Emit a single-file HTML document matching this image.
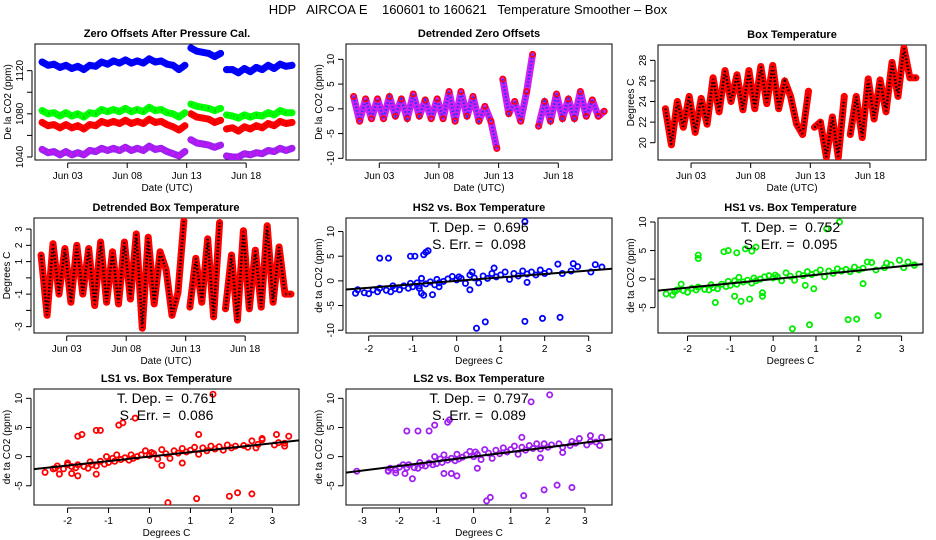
<!DOCTYPE html>
<html><head><meta charset="utf-8">
<style>
html,body{margin:0;padding:0;background:#fff;}
svg{display:block;font-family:"Liberation Sans",Arial,sans-serif;}
</style></head>
<body>
<svg id="chart" width="936" height="540" viewBox="0 0 936 540" xmlns="http://www.w3.org/2000/svg">
<rect x="0" y="0" width="936" height="540" fill="#fff"/>
<text x="468" y="14" text-anchor="middle" font-size="13" style="white-space:pre" xml:space="preserve">HDP   AIRCOA E    160601 to 160621   Temperature Smoother – Box</text>
</svg>
<script>
// ---- time-series data (half-day samples starting Jun 0.85) ----
const t0 = 0.85;
const dt = 0.5;
const timeTicks = [3, 8, 13, 18];
const timeTickLabels = ["Jun 03", "Jun 08", "Jun 13", "Jun 18"];
const segBreaks = [25, 31];
const zeroBlue = [1128,1125,1126,1123,1125,1122,1124,1121,1125,1124,1128,1126,1129,1127,1130,1127,1129,1127,1131,1128,1129,1126,1125,1121,1125,1141,1138,1137,1136,1133,1136,1121,1121,1118,1122,1119,1123,1121,1125,1122,1126,1124,1125];
const zeroGreen = [1083,1080,1081,1078,1081,1078,1080,1077,1081,1080,1084,1082,1084,1082,1085,1082,1084,1082,1086,1083,1084,1081,1080,1077,1081,1089,1087,1086,1085,1083,1085,1079,1078,1076,1079,1077,1079,1078,1081,1079,1083,1081,1081];
const zeroRed = [1072,1069,1070,1067,1070,1067,1069,1066,1070,1069,1073,1071,1073,1071,1074,1071,1073,1071,1075,1072,1073,1070,1068,1065,1069,1080,1077,1076,1075,1072,1074,1066,1067,1064,1068,1066,1069,1067,1071,1069,1073,1071,1072];
const zeroPurple = [1047,1044,1045,1042,1045,1042,1044,1042,1046,1045,1048,1046,1048,1046,1049,1046,1048,1046,1050,1047,1048,1045,1043,1041,1045,1056,1053,1052,1051,1049,1051,1041,1040,1040,1043,1042,1044,1043,1046,1045,1048,1046,1048];
const detrendedZero = [2.5,-2.5,2,-2,2,-2,2.5,-1.5,2,-2,3,-1.5,1.8,-2,2,-2,3.5,-2.5,3.5,-1.5,2.5,-2.5,0.5,-2.5,-8,6,-1,1.5,-2.5,3.5,11,-3.5,1.5,-2.5,3,-2,2,-2,3.5,-1.5,1.8,-1.5,-0.5];
const boxTemp = [23.3,19.8,24,21.5,24.5,21,24.3,21.8,26.3,23,27,24,26.6,23.2,27,23.3,27.4,23.8,27.5,23.3,26,24.5,21.8,20.8,25,21.5,22,18.6,22.5,18.6,24.5,20.8,24.5,20.5,26.2,22.3,26.1,23,27.8,24.5,29.2,26.3,26.3];
const detrendedBox = [1.4,-2.3,2.1,-1,1.8,-1.5,2,-1,1.8,-1.7,2.2,-1.5,1.6,-1.6,2.2,-1.3,2.7,-3.1,2.5,-1.6,1.6,0.5,-2.3,-0.9,3.5,-1.8,1.2,-1.5,2.4,-2.4,3.4,-1.9,1.4,-2.6,2.9,-1.9,1.7,-1.8,3.2,-1.5,1.9,-1,-1];

// ---- scatter data ----
const coreX = [-2.3,-2.25,-2.1,-2.0,-1.9,-1.8,-1.75,-1.6,-1.5,-1.45,-1.4,-1.3,-1.2,-1.1,-1.05,-1.0,-0.9,-0.85,-0.8,-0.7,-0.6,-0.5,-0.45,-0.4,-0.3,-0.2,-0.1,0,0.05,0.1,0.2,0.3,0.4,0.5,0.6,0.7,0.8,0.9,1.0,1.1,1.2,1.3,1.4,1.5,1.6,1.7,1.8,1.9,2.0,2.1,2.3,2.4,2.6,2.65,2.75,3.05,3.15,3.3];
const hs2X = coreX.concat([-1.75,-1.55,-1.05,-0.95,-0.75,-0.7,-0.65,1.55,0.45,0.65,1.55,1.95,2.35,-0.8,-0.75,-0.55,0.3,-0.85,-0.4,0.35,0.85,1.6]);
const hs2Y = [-2.5,-1.8,-2.4,-2.6,-1.8,-2.2,-1.5,-1.9,-2.2,-1.0,-1.6,-1.8,-1.0,-1.5,-0.5,-1.2,-0.4,-1.0,0.5,-0.6,-0.2,-0.8,0.3,-0.4,-0.1,0.4,0.9,0.2,0.8,0.5,-0.5,1.2,0.6,-0.4,1.0,0.5,1.5,0.8,1.2,1.8,0.3,1.5,1.0,2.0,1.4,1.8,1.2,2.2,1.5,1.9,3.4,1.5,2.0,3.5,2.9,1.8,3.3,2.8,4.6,4.6,5.0,5.0,5.3,5.8,6.1,12.0,-9.6,-8.3,-8.2,-7.6,-7.4,-2.5,-2.9,-2.8,-1.8,-1.5,-1.2,1.8,2.6,-0.3];
const hs1X = coreX.concat([-1.75,-1.75,-1.15,-1.05,-0.85,-0.65,-0.5,-0.4,1.25,1.55,0.45,0.85,1.75,1.95,2.45,-1.35,-0.9,-0.75,-0.55,-0.25,-0.25,-2.5,-2.35,-2.15,0.95,0.75,2.1,2.95,3.3,2.2]);
const hs1Y = [-2.2,-1.9,-2.0,-2.3,-1.6,-1.9,-1.4,-1.8,-1.9,-1.0,-1.5,-1.7,-0.9,-1.3,-0.4,-1.1,-0.3,-0.9,0.3,-0.5,-0.2,-0.7,0.2,-0.3,0.0,0.4,0.6,0.2,0.7,0.4,-0.3,1.1,0.5,-0.2,0.9,0.6,1.3,0.8,1.1,1.6,0.4,1.4,1.0,1.8,1.4,1.7,1.3,2.1,1.6,1.9,2.9,1.6,2.0,2.8,2.5,2.0,3.0,2.5,4.2,3.6,4.8,5.0,4.6,5.3,4.9,5.6,8.8,10.0,-8.7,-8.0,-7.1,-7.0,-6.4,-4.1,-3.0,-3.9,-3.5,-3.0,-2.4,-2.6,-2.8,-0.9,-1.7,-1.1,-0.8,3.3,2.4,3.0];
const ls1X = coreX.concat([-2.55,-2.35,-2.2,-1.9,-1.75,-1.75,-1.65,-1.3,-1.2,-0.75,-0.65,-0.35,1.55,0.45,1.15,1.95,2.15,2.5,1.2,2.5,2.75,3.1,3.3,3.4,-1.3,0.8,0.3,-2.0]);
const ls1Y = [-2.0,-1.6,-2.1,-1.4,-1.7,-1.9,-1.4,-1.7,-2.0,-0.9,-1.4,-1.6,-0.8,-1.3,0.0,-1.0,-0.3,-0.8,0.3,-0.5,-0.2,-0.6,0.3,-0.3,0.0,0.3,1.0,0.2,0.7,0.5,-0.4,1.2,0.5,-0.3,1.0,0.6,1.4,0.8,1.1,1.6,0.4,1.5,1.0,1.8,1.3,1.7,1.1,2.0,1.5,1.8,1.9,1.6,1.5,2.1,2.9,2.0,2.4,2.3,-2.7,-2.1,-3.0,-2.9,-3.3,3.5,3.8,4.5,4.5,5.4,5.8,6.6,10.7,-7.9,-7.2,-6.8,-6.2,-6.4,3.8,2.7,3.1,3.8,1.8,3.5,-3.0,-1.1,-1.5,-1.1];
const ls2X = coreX.concat([-3.15,-2.3,-2.1,-1.85,-1.65,-1.8,-1.5,-1.2,-1.05,-0.7,-0.65,1.55,2.05,0.35,0.45,1.35,1.9,2.25,2.65,-0.8,-0.6,-0.45,0.1,1.8,2.4,2.85,3.15,3.4,3.45,1.3]);
const ls2Y = [-2.4,-2.0,-2.3,-1.8,-1.4,-1.9,-1.4,-1.9,-2.0,-1.0,-1.5,-1.6,-1.1,-1.4,0.0,-1.2,-0.4,-1.0,0.3,-0.6,-0.3,-0.7,0.4,-0.4,-0.1,0.3,0.9,0.0,0.8,0.4,-0.5,1.2,0.6,-0.3,1.1,0.5,1.5,0.8,1.2,1.8,0.4,1.6,1.1,1.9,1.4,2.2,1.3,2.2,1.6,2.0,2.2,1.6,1.9,2.6,2.3,2.0,2.6,2.5,-2.5,-2.5,-2.8,-2.9,-3.8,4.4,4.4,4.4,5.4,5.9,6.3,9.4,10.6,-7.6,-7.0,-6.7,-5.7,-4.9,-5.3,-2.9,-2.9,-3.3,-2.0,-0.2,0.7,3.1,3.6,1.9,3.3,3.3];
const slopes = [0.696, 0.752, 0.761, 0.797];
const errs = [0.098, 0.095, 0.086, 0.089];

const NS = "http://www.w3.org/2000/svg";
const svg = document.getElementById("chart");
function mk(tag, attrs, parent) {
  const e = document.createElementNS(NS, tag);
  for (const k in attrs) e.setAttribute(k, attrs[k]);
  (parent || svg).appendChild(e);
  return e;
}
function panel(name, box, xd, yd, title, xlab, ylab, xticks, xlabels, yticks, ylabels) {
  const g = mk("g", {});
  
  
  const [L, T, R, B] = box;
  const sx = v => L + (v - xd[0]) / (xd[1] - xd[0]) * (R - L);
  const sy = v => B - (v - yd[0]) / (yd[1] - yd[0]) * (B - T);
  const fr = mk("rect", {x: L, y: T, width: R - L, height: B - T, fill: "none", stroke: "#000", "stroke-width": 1}, g);
  
  
  const tt = mk("text", {x: (L + R) / 2, y: T - 7, "text-anchor": "middle", "font-size": 11, "font-weight": "bold"}, g);
  tt.textContent = title;
  
  
  const xa = mk("g", {}, g);
  
  
  mk("line", {x1: sx(xticks[0]), x2: sx(xticks[xticks.length - 1]), y1: B + 3, y2: B + 3, stroke: "#000"}, xa);
  xticks.forEach((v, i) => {
    mk("line", {x1: sx(v), x2: sx(v), y1: B + 3, y2: B + 8, stroke: "#000"}, xa);
    const tl = mk("text", {x: sx(v), y: B + 19, "text-anchor": "middle", "font-size": 10}, xa);
    tl.textContent = xlabels[i];
    
    
  });
  const xl = mk("text", {x: (L + R) / 2, y: B + 31, "text-anchor": "middle", "font-size": 10}, g);
  xl.textContent = xlab;
  
  
  const ya = mk("g", {}, g);
  
  
  mk("line", {x1: L - 3, x2: L - 3, y1: sy(yticks[0]), y2: sy(yticks[yticks.length - 1]), stroke: "#000"}, ya);
  yticks.forEach((v, i) => {
    mk("line", {x1: L - 8, x2: L - 3, y1: sy(v), y2: sy(v), stroke: "#000"}, ya);
    if (ylabels[i] !== "") {
      const yl = mk("text", {x: 0, y: 0, "text-anchor": "middle", "font-size": 10, transform: `translate(${L - 12},${sy(v)}) rotate(-90)`}, ya);
      yl.textContent = ylabels[i];
      
      
    }
  });
  const yt = mk("text", {x: 0, y: 0, "text-anchor": "middle", "font-size": 10, transform: `translate(${L - 24},${(T + B) / 2}) rotate(-90)`}, g);
  yt.textContent = ylab;
  
  
  const clip = "clip" + name;
  const cp = mk("clipPath", {id: clip}, g);
  mk("rect", {x: L, y: T, width: R - L, height: B - T}, cp);
  const plot = mk("g", {"clip-path": `url(#${clip})`}, g);
  return {sx, sy, plot};
}
function series(p, vals, color, name, dark, pointColor) {
  const gs = mk("g", {}, p.plot);
  
  
  const starts = [0].concat(segBreaks);
  const ends = segBreaks.concat([vals.length]);
  starts.forEach((s, k) => {
    let pts = [];
    for (let i = s; i < ends[k]; i++) pts.push(p.sx(t0 + i * dt).toFixed(1) + "," + p.sy(vals[i]).toFixed(1));
    mk("polyline", {points: pts.join(" "), fill: "none", stroke: color, "stroke-width": 7, "stroke-linejoin": "round", "stroke-linecap": "round"}, gs);
    mk("polyline", {points: pts.join(" "), fill: "none", stroke: dark, "stroke-width": 2.5, "stroke-dasharray": "1.5 2"}, gs);
  });
  vals.forEach((v, i) => {
    const c = mk("circle", {cx: p.sx(t0 + i * dt), cy: p.sy(v), r: 2.6, fill: "none", stroke: pointColor || color, "stroke-width": 1.6}, gs);
    
    
  });
}
function scatter(p, xs, ys, color, slope, xd, name) {
  const gs = mk("g", {}, p.plot);
  
  
  xs.forEach((x, i) => {
    const c = mk("circle", {cx: p.sx(x), cy: p.sy(ys[i]), r: 2.6, fill: "none", stroke: color, "stroke-width": 1.8}, gs);
    
    
  });
  const ln = mk("line", {x1: p.sx(xd[0]), y1: p.sy(slope * xd[0]), x2: p.sx(xd[1]), y2: p.sy(slope * xd[1]), stroke: "#000", "stroke-width": 2}, gs);
  
  
}
function annot(box, slope, err) {
  const cx = (box[0] + box[2]) / 2;
  const a = mk("text", {x: cx, y: box[1] + 14, "text-anchor": "middle", "font-size": 14, style: "white-space:pre"}, svg);
  a.textContent = "T. Dep. =  " + slope.toFixed(3);
  
  
  const b = mk("text", {x: cx, y: box[1] + 31, "text-anchor": "middle", "font-size": 14, style: "white-space:pre"}, svg);
  b.textContent = "S. Err. =  " + err.toFixed(3);
  
  
}

const b1 = [35, 44, 299, 160];
const p1 = panel("zero-offsets-panel", b1, [0.25, 22.44], [1037.2, 1144.7], "Zero Offsets After Pressure Cal.", "Date (UTC)", "De la CO2 (ppm)", timeTicks, timeTickLabels, [1040,1060,1080,1100,1120], ["1040","","1080","","1120"]);
series(p1, zeroPurple, "#a020f0", "series-ls2", "#ff00ff");
series(p1, zeroRed, "#ff0000", "series-ls1", "#cc0000");
series(p1, zeroGreen, "#00ff00", "series-hs1", "#00cc00");
series(p1, zeroBlue, "#0000ff", "series-hs2", "#0000cc");

const p2 = panel("detrended-zero-panel", [346, 44, 612, 160], [0.21, 22.5], [-10.34, 13.1], "Detrended Zero Offsets", "Date (UTC)", "De la CO2 (ppm)", timeTicks, timeTickLabels, [-10,-5,0,5,10], ["-10","-5","0","5","10"]);
series(p2, detrendedZero, "#d020f0", "detrended-zero-series", "#3030ff", "#ff0000");

const p3 = panel("box-temperature-panel", [658, 45, 926, 160], [0.23, 22.7], [18.32, 29.49], "Box Temperature", "Date (UTC)", "Degrees C", timeTicks, timeTickLabels, [20,22,24,26,28], ["20","22","24","26","28"]);
series(p3, boxTemp, "#ff0000", "box-temperature-series", "#000000");

const p4 = panel("detrended-box-panel", [34, 218, 298, 333], [0.25, 22.44], [-3.39, 3.68], "Detrended Box Temperature", "Date (UTC)", "Degrees C", timeTicks, timeTickLabels, [-3,-2,-1,0,1,2,3], ["-3","","-1","","1","2","3"]);
series(p4, detrendedBox, "#ff0000", "detrended-box-series", "#000000");

const xt = [-2,-1,0,1,2,3], xtl = ["-2","-1","0","1","2","3"];
const b5 = [346, 218, 612, 333], xd5 = [-2.516, 3.53];
const p5 = panel("hs2-scatter-panel", b5, xd5, [-10.56, 12.74], "HS2 vs. Box Temperature", "Degrees C", "de ta CO2 (ppm)", xt, xtl, [-10,-5,0,5,10], ["-10","-5","0","5","10"]);
scatter(p5, hs2X, hs2Y, "#0000ff", slopes[0], xd5, "hs2-points");
annot(b5, slopes[0], errs[0]);

const b6 = [658, 218, 923, 333], xd6 = [-2.69, 3.5];
const p6 = panel("hs1-scatter-panel", b6, xd6, [-9.44, 10.7], "HS1 vs. Box Temperature", "Degrees C", "de ta CO2 (ppm)", xt, xtl, [-5,0,5,10], ["-5","0","5","10"]);
scatter(p6, hs1X, hs1Y, "#00ee00", slopes[1], xd6, "hs1-points");
annot(b6, slopes[1], errs[1]);

const b7 = [34, 389, 299, 505], xd7 = [-2.82, 3.65];
const p7 = panel("ls1-scatter-panel", b7, xd7, [-8.3, 11.6], "LS1 vs. Box Temperature", "Degrees C", "de ta CO2 (ppm)", xt, xtl, [-5,0,5,10], ["-5","0","5","10"]);
scatter(p7, ls1X, ls1Y, "#ff0000", slopes[2], xd7, "ls1-points");
annot(b7, slopes[2], errs[2]);

const b8 = [346, 389, 612, 505], xd8 = [-3.44, 3.73];
const p8 = panel("ls2-scatter-panel", b8, xd8, [-8.3, 11.6], "LS2 vs. Box Temperature", "Degrees C", "de ta CO2 (ppm)", [-3,-2,-1,0,1,2,3], ["-3","-2","-1","0","1","2","3"], [-5,0,5,10], ["-5","0","5","10"]);
scatter(p8, ls2X, ls2Y, "#a020f0", slopes[3], xd8, "ls2-points");
annot(b8, slopes[3], errs[3]);
</script>
</body></html>
